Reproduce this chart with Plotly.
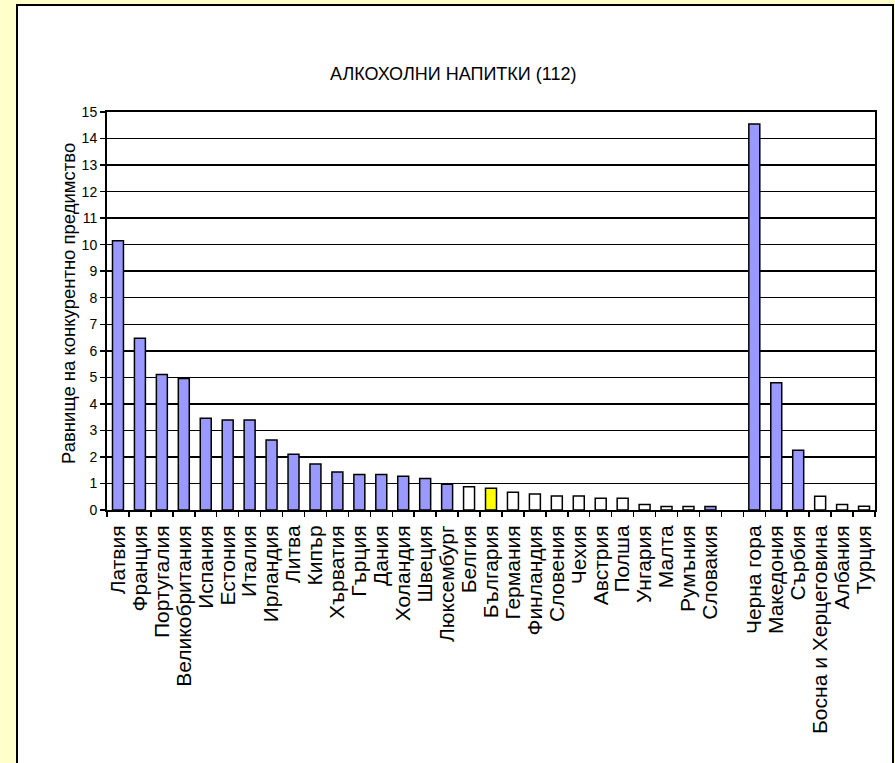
import plotly.graph_objects as go

# ---------------- data ----------------
categories = [
    "Латвия", "Франция", "Португалия", "Великобритания", "Испания", "Естония",
    "Италия", "Ирландия", "Литва", "Кипър", "Хърватия", "Гърция", "Дания",
    "Холандия", "Швеция", "Люксембург", "Белгия", "България", "Германия",
    "Финландия", "Словения", "Чехия", "Австрия", "Полша", "Унгария", "Малта",
    "Румъния", "Словакия", " ", "Черна гора", "Македония", "Сърбия",
    "Босна и Херцеговина", "Албания", "Турция",
]
values = [
    10.15, 6.47, 5.11, 4.96, 3.46, 3.39, 3.39, 2.64, 2.10, 1.73, 1.43, 1.34,
    1.34, 1.27, 1.19, 0.97, 0.88, 0.82, 0.67, 0.60, 0.53, 0.53, 0.44, 0.44,
    0.21, 0.13, 0.13, 0.13, None, 14.55, 4.80, 2.25, 0.52, 0.21, 0.14,
]
groups = (
    ["adv"] * 16 + ["dis", "bg"] + ["dis"] * 9 + ["adv", "none"]
    + ["adv"] * 3 + ["dis"] * 3
)
y_ticks = list(range(0, 16))
title_text = "АЛКОХОЛНИ НАПИТКИ (112)"
y_title = "Равнище на конкурентно предимство"

# ---------------- style ----------------
group_colors = {"adv": "#9999FF", "dis": "#FFFFFF", "bg": "#FFFF00", "none": "#FFFFFF"}
bar_colors = [group_colors[g] for g in groups]

W, H = 895, 763
PL, PR, PT, PB = 107, 875, 112, 510  # plot area in pixels
FONT = "Arial, Liberation Sans, sans-serif"


def px_x(x):
    return (x - PL) / (PR - PL)


def px_y(y):
    return (PB - y) / (PB - PT)


fig = go.Figure(
    go.Bar(
        x=categories,
        y=values,
        marker=dict(color=bar_colors, line=dict(color="black", width=1.5)),
        showlegend=False,
        hoverinfo="skip",
    )
)

fig.update_layout(
    width=W,
    height=H,
    margin=dict(l=PL, r=W - PR, t=PT, b=H - PB, autoexpand=False),
    paper_bgcolor="#FFFFCC",
    plot_bgcolor="rgba(0,0,0,0)",
    bargap=0.5,
    font=dict(family=FONT, color="black"),
    shapes=[
        dict(
            type="rect", xref="paper", yref="paper", layer="below",
            x0=px_x(17), x1=px_x(893), y0=px_y(768), y1=px_y(5),
            fillcolor="white", line=dict(color="black", width=2),
        )
    ],
    annotations=[
        dict(
            text=title_text, xref="paper", yref="paper",
            x=px_x(453), y=px_y(74), xanchor="center", yanchor="middle",
            showarrow=False, font=dict(size=18, family=FONT),
        ),
        dict(
            text=y_title, xref="paper", yref="paper", textangle=-90,
            x=px_x(68), y=px_y(304), xanchor="center", yanchor="middle",
            showarrow=False, font=dict(size=18.5, family=FONT),
        ),
    ],
)

fig.update_xaxes(
    type="category",
    tickmode="linear",
    tick0=0,
    dtick=1,
    tickangle=-90,
    tickfont=dict(size=21, family=FONT),
    ticklabelstandoff=5,
    ticks="outside",
    tickson="boundaries",
    ticklen=5,
    tickcolor="black",
    tickwidth=1.5,
    showline=True,
    linecolor="black",
    linewidth=2,
    mirror=True,
    showgrid=False,
    automargin=False,
    fixedrange=True,
)
fig.update_yaxes(
    range=[0, 15],
    tickvals=y_ticks,
    ticktext=[str(v) for v in y_ticks],
    tickfont=dict(size=14, family=FONT),
    ticks="outside",
    ticklen=5,
    tickcolor="black",
    tickwidth=1.5,
    showline=True,
    linecolor="black",
    linewidth=2,
    mirror=True,
    showgrid=True,
    gridcolor="black",
    gridwidth=1.5,
    zeroline=False,
    automargin=False,
    fixedrange=True,
)

fig.write_html(
    "out.html",
    config={"displayModeBar": False, "staticPlot": True},
    post_script="document.body.style.margin='0';document.body.style.overflow='hidden';",
)
